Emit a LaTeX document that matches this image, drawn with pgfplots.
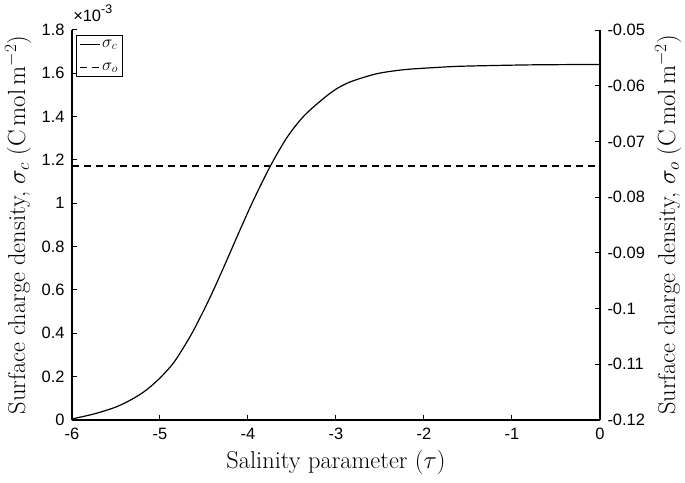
\documentclass[border=0pt]{standalone}
\usepackage[no-math]{fontspec}
\setmainfont{Liberation Sans}
\newfontfamily\lmr{Latin Modern Roman}
\usepackage{pgfplots}
\pgfplotsset{compat=1.18}
\begin{document}
\begin{tikzpicture}
\path[use as bounding box] (-72bp,-63bp) rectangle (613bp,420bp);
\pgfplotsset{
  common/.style={
    width=528bp, height=390bp, scale only axis,
    xmin=-6, xmax=0,
    tick align=inside,
    major tick length=5bp,
    tick style={black, line width=1bp},
    axis line style={black, line width=1.1bp},
    ticklabel style={font=\fontsize{16.5}{19}\selectfont},
    scaled ticks=false,
    label style={font=\lmr\fontsize{24.5}{28}\selectfont},
  }
}
\begin{axis}[
  common,
  axis x line*=bottom, axis y line*=left,
  ymin=0, ymax=1.8,
  xtick={-6,-5,-4,-3,-2,-1,0},
  xticklabels={-6,-5,-4,-3,-2,-1,0},
  ytick={0,0.2,0.4,0.6,0.8,1,1.2,1.4,1.6,1.8},
  yticklabels={0,0.2,0.4,0.6,0.8,1,1.2,1.4,1.6,1.8},
  xticklabel style={yshift=-5bp},
  yticklabel style={xshift=-4bp},
  xlabel={Salinity parameter ($\tau$)},
  ylabel={Surface charge density, $\sigma_c$ ($\mathrm{C\,mol\,m^{-2}}$)},
  xlabel style={at={(axis description cs:0.5,-0.110)}, anchor=center},
  ylabel style={at={(axis description cs:-0.102,0.5)}, anchor=center},
  after end axis/.code={
    \node[anchor=base west, inner sep=0pt, font=\fontsize{16.5}{19}\selectfont]
      at ([yshift=8bp]axis description cs:0.002,1) {×10\raisebox{0.5em}{\fontsize{12.5}{14}\selectfont -3}};
  },
]
\addplot[black, line width=1.2bp, smooth] coordinates {
(-6.0,0.005) (-5.75,0.028) (-5.5,0.06) (-5.3,0.10) (-5.15,0.14)
(-5.0,0.194) (-4.849,0.262) (-4.735,0.333) (-4.621,0.412) (-4.47,0.533)
(-4.356,0.632) (-4.224,0.753) (-4.09,0.878) (-3.94,1.013) (-3.75,1.169)
(-3.56,1.302) (-3.372,1.40) (-3.163,1.477) (-3.0,1.527) (-2.841,1.560)
(-2.614,1.590) (-2.462,1.604) (-2.197,1.618) (-1.818,1.628) (-1.55,1.633)
(-0.8,1.639) (0,1.641)
};
\end{axis}
\begin{axis}[
  common,
  axis x line=none, axis y line*=right,
  ymin=-0.12, ymax=-0.05,
  ytick={-0.12,-0.11,-0.1,-0.09,-0.08,-0.07,-0.06,-0.05},
  yticklabels={-0.12,-0.11,-0.1,-0.09,-0.08,-0.07,-0.06,-0.05},
  yticklabel style={xshift=4bp},
  ylabel={Surface charge density, $\sigma_o$ ($\mathrm{C\,mol\,m^{-2}}$)},
  ylabel style={at={(axis description cs:1.129,0.5)}, anchor=center},
  legend style={at={(axis description cs:0.008,0.987)}, anchor=north west,
    draw=black, line width=0.6bp, fill=white, inner sep=2.5bp,
    font=\fontsize{16.5}{19}\selectfont, row sep=10bp,
    cells={anchor=west}},
  legend image code/.code={\draw[#1] (0bp,0bp) -- (20bp,0bp);},
]
\addlegendimage{black, solid, line width=1.2bp}
\addlegendentry{$\sigma_c$}
\addplot[black, line width=1.2bp, dash pattern=on 7bp off 5bp] coordinates {
(-6,-0.0744) (0,-0.0744)
};
\addlegendentry{$\sigma_o$}
\end{axis}
\end{tikzpicture}
\end{document}
